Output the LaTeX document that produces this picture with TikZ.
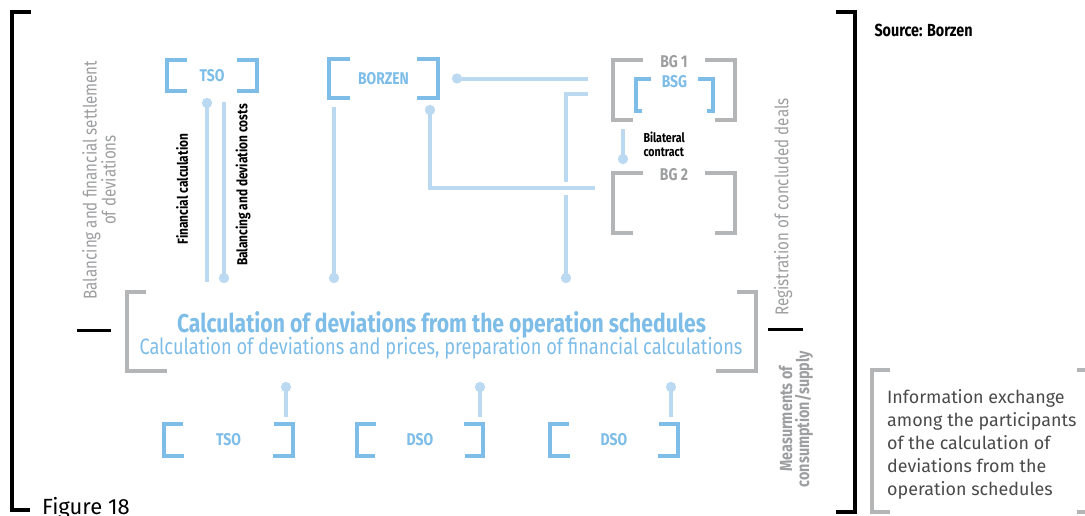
\documentclass[tikz,border=0pt]{standalone}
\usepackage{fontspec}
\setmainfont{Fira Sans}
\newfontfamily\narrow[FakeStretch=0.82]{Fira Sans}
\usetikzlibrary{arrows.meta}
\usetikzlibrary{calc}
\usetikzlibrary{positioning}

\definecolor{linkblue}{HTML}{BBD9F1}
\definecolor{frameblue}{HTML}{7DBDE8}
\definecolor{framegray}{HTML}{B4B5B7}
\definecolor{labelgray}{HTML}{9D9EA0}
\definecolor{infogray}{HTML}{4A4A4A}

% square brackets round a node: node, style, upper arm, lower arm
\newcommand{\bracketpair}[4]{%
  \draw[#2] ([xshift=#3]#1.north west) -- (#1.north west) -- (#1.south west) -- ([xshift=#4]#1.south west);
  \draw[#2] ([xshift=-#3]#1.north east) -- (#1.north east) -- (#1.south east) -- ([xshift=-#4]#1.south east);
}

\begin{document}
\begin{tikzpicture}[x=1pt, y=-1pt,
    box/.style={inner sep=0pt, outer sep=0pt},
    tag/.style={font=\narrow\bfseries\fontsize{17}{17}\selectfont, text=frameblue},
    graytag/.style={tag, text=labelgray},
    side/.style={font=\narrow\fontsize{18.5}{19}\selectfont, text=labelgray, rotate=90, align=center},
    note/.style={font=\narrow\bfseries\fontsize{14.5}{15}\selectfont, text=black},
    blueframe/.style={draw=frameblue, line width=4pt, line join=miter},
    grayframe/.style={draw=framegray, line width=4pt, line join=miter},
    rule/.style={draw=black, line width=4pt, line join=miter},
    link/.style={draw=linkblue, line width=4pt},
    dot/.style={{Circle[length=10pt]}-},
    todot/.style={-{Circle[length=10pt]}}]
    \useasboundingbox (0,0) rectangle (1085,515);

    % outer frame
    \draw[rule] (31,12) -- (11.5,12) -- (11.5,510) -- (30,510);
    \draw[rule] (836,11.5) -- (855,11.5) -- (855,512) -- (836,512);
    \draw[black, line width=3pt] (77,330) -- (111,330);
    \draw[black, line width=3pt] (768,329) -- (803,329);

    % participants
    \node[box, tag, minimum width=90pt, minimum height=31pt] (tso) at (212,75.5) {TSO};
    \node[box, tag, minimum width=109pt, minimum height=39pt] (borzen) at (383.5,78.5) {BORZEN};
    \node[box, minimum width=122pt, minimum height=60pt] (bgone) at (674,90) {};
    \node[box, minimum width=77pt, minimum height=32pt] (bsg) at (674.5,95) {};
    \node[box, minimum width=122pt, minimum height=60pt, below=53pt of bgone] (bgtwo) {};
    \node[box, minimum width=629pt, minimum height=79pt] (calc) at (441.5,331.5) {};
    \node[box, tag, minimum width=129pt, minimum height=32pt] (tsob) at (228.5,440) {TSO};
    \node[box, tag, minimum width=126pt, minimum height=32pt, right=64pt of tsob] (dsoa) {DSO};
    \node[box, tag, minimum width=128pt, minimum height=32pt, right=67pt of dsoa] (dsob) {DSO};
    \node[box, minimum width=223pt, minimum height=142pt] (info) at (983.5,441) {};

    \node[graytag] at ([yshift=-2pt]bgone.north) {BG 1};
    \node[tag] at ([yshift=-3pt]bsg.north) {BSG};
    \node[graytag] at ([yshift=-2pt]bgtwo.north) {BG 2};

    \bracketpair{tso}{blueframe}{20pt}{20pt}
    \bracketpair{borzen}{blueframe}{21pt}{21pt}
    \bracketpair{bgone}{grayframe}{30pt}{20pt}
    \bracketpair{bsg}{blueframe}{15pt}{6pt}
    \bracketpair{bgtwo}{grayframe}{30pt}{20pt}
    \bracketpair{calc}{grayframe}{19pt}{40pt}
    \bracketpair{tsob}{blueframe}{19pt}{20pt}
    \bracketpair{dsoa}{blueframe}{19pt}{18pt}
    \bracketpair{dsob}{blueframe}{19pt}{20pt}
    \bracketpair{info}{grayframe}{18pt}{18pt}

    % central box texts
    \node[font=\narrow\bfseries\fontsize{25.8}{27}\selectfont, text=frameblue] (title) at (441.5,325) {Calculation of deviations from the operation schedules};
    \node[font=\narrow\fontsize{22.2}{24}\selectfont, text=frameblue] (subtitle) at (441,348) {Calculation of deviations and prices, preparation of financial calculations};

    % side labels
    \node[side] (settle) at (99,180) {Balancing and financial settlement\\of deviations};
    \node[side] (register) at (783,207) {Registration of concluded deals};
    \node[side, font=\narrow\bfseries\fontsize{17.5}{17}\selectfont] (measure) at (796,419) {Measurments of\\consumption/supply};
    \node[note, rotate=90] (fincalc) at (182,189) {Financial calculation};
    \node[note, rotate=90] (costs) at (243,185) {Balancing and deviation costs};
    \node[note, font=\narrow\bfseries\fontsize{13}{14}\selectfont, anchor=west, align=left] (bilat) at (640,144) {Bilateral\\contract};
    \node[font=\narrow\bfseries\fontsize{17.5}{17}\selectfont, anchor=west] (source) at (871,30) {Source: Borzen};
    \node[font=\fontsize{22}{22}\selectfont, anchor=base west, inner sep=0pt] (fig) at (42,514) {Figure 18};
    \node[font=\fontsize{17.9}{23}\selectfont, text=infogray, anchor=north west, align=left, inner sep=0pt] (infotext) at (887,389) {Information exchange\\among the participants\\of the calculation of\\deviations from the\\operation schedules};

    % information flows
    \draw[link, dot] ($(tso.south)+(-5,7)$) -- ($(tso.south |- calc.north)+(-5,-10)$);
    \draw[link, todot] ($(tso.south)+(12,11)$) -- ($(tso.south |- calc.north)+(12,-9)$);
    \draw[link, todot] ($(borzen.south west)+(5,9)$) -- ($(borzen.south west |- calc.north)+(5,-9)$);
    \draw[link, dot] ($(borzen.east)+(14,0)$) -- ($(bgone.west |- borzen.east)+(-25,0)$);
    \draw[link, todot] ($(bsg.west)+(-48,-1)$) -| ($(calc.north)+(124.5,-9)$);
    \draw[link, dot, preaction={draw=white, line width=13pt, -}] ($(borzen.south east)+(-8,7)$) |- ($(bgtwo.west)+(-18,-15)$);
    \draw[link, todot] ($(bgone.south west)+(10,9)$) -- ($(bgtwo.north west)+(10,-9)$);
    \draw[link, dot] ($(tsob.north east)+(-7,-42)$) -- ($(tsob.north east)+(-7,-7)$);
    \draw[link, dot] ($(dsoa.north east)+(-3,-42)$) -- ($(dsoa.north east)+(-3,-7)$);
    \draw[link, dot] ($(dsob.north east)+(-7,-42)$) -- ($(dsob.north east)+(-7,-7)$);
\end{tikzpicture}
\end{document}
